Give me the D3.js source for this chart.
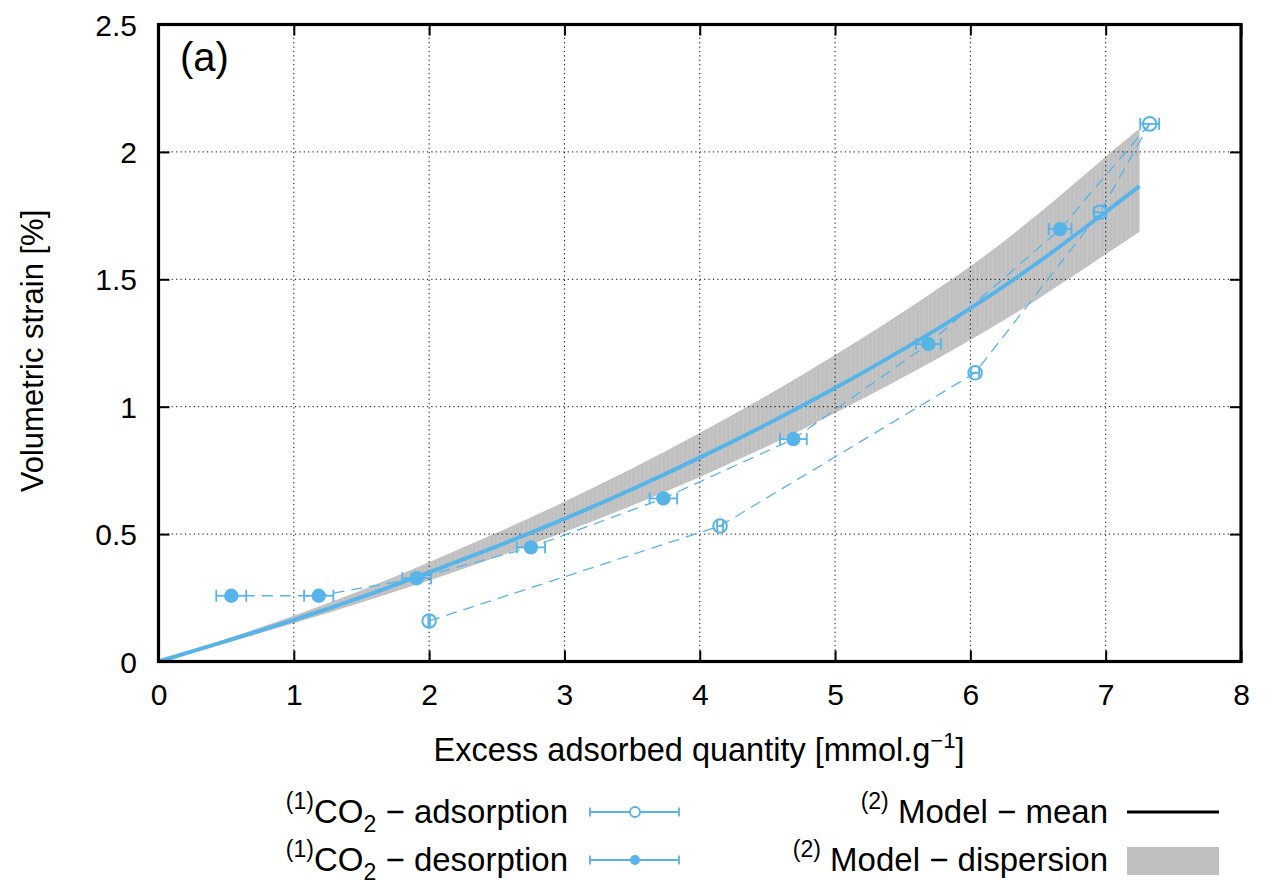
<!DOCTYPE html>
<html><head><meta charset="utf-8">
<script src="https://cdn.jsdelivr.net/npm/d3@7"></script>
<style>
body{margin:0;background:#fff}
svg{display:block}
text{font-family:"Liberation Sans",Arial,Helvetica,sans-serif;fill:#000}
</style>
</head><body>
<svg id="c" width="1266" height="885"></svg>
<script>
// ---- data ----
const xTicks = [0,1,2,3,4,5,6,7,8];
const xTickLabels = ["0","1","2","3","4","5","6","7","8"];
const yTicks = [0,0.5,1,1.5,2,2.5];
const yTickLabels = ["0","0.5","1","1.5","2","2.5"];

const adsX   = [2.0, 4.15, 6.035, 6.958, 7.325];
const adsY   = [0.159, 0.532, 1.133, 1.763, 2.11];
const adsErr = [0.006, 0.022, 0.03, 0.045, 0.07];

const desX   = [6.663, 5.69, 4.692, 3.731, 2.752, 1.908, 1.184, 0.538];
const desY   = [1.697, 1.246, 0.873, 0.640, 0.448, 0.327, 0.258, 0.258];
const desErr = [0.084, 0.092, 0.099, 0.102, 0.105, 0.106, 0.108, 0.111];

const modelX     = [0, 0.5, 1, 1.5, 2, 2.5, 3, 3.5, 4, 4.5, 5, 5.5, 6, 6.5, 7, 7.25];
const modelMean  = [0, 0.080, 0.163, 0.253, 0.350, 0.452, 0.560, 0.676, 0.800, 0.932, 1.073, 1.224, 1.386, 1.566, 1.764, 1.866];
const modelUpper = [0, 0.088, 0.180, 0.280, 0.390, 0.505, 0.627, 0.757, 0.897, 1.045, 1.203, 1.371, 1.551, 1.756, 1.981, 2.091];
const modelLower = [0, 0.074, 0.150, 0.232, 0.318, 0.410, 0.508, 0.612, 0.724, 0.845, 0.975, 1.115, 1.262, 1.423, 1.598, 1.687];

// ---- setup ----
const BLUE = "#56b4e9";
const BAND = "#c0c0c0";
const svg = d3.select("#c");
const x = d3.scaleLinear().domain([0,8]).range([158.5,1241]);
const y = d3.scaleLinear().domain([0,2.5]).range([661.5,24.5]);

const ads = adsX.map((v,i)=>({x:v,y:adsY[i],e:adsErr[i]}));
const des = desX.map((v,i)=>({x:v,y:desY[i],e:desErr[i]}));
const model = modelX.map((v,i)=>({x:v,m:modelMean[i],u:modelUpper[i],l:modelLower[i]}));

// band (with faint vertical striping like the original fill)
const areaGen = d3.area().x(d=>x(d.x)).y0(d=>y(d.l)).y1(d=>y(d.u)).curve(d3.curveNatural);
svg.append("clipPath").attr("id","bandclip").append("path").datum(model).attr("d",areaGen);
svg.append("path").datum(model).attr("fill",BAND).attr("d",areaGen);
const stripes = svg.append("g").attr("clip-path","url(#bandclip)").attr("stroke","#cfcfcf").attr("stroke-width",0.8).attr("opacity",0.7);
d3.range(x(0), x(7.25), 4.3).forEach(px=>{
  stripes.append("line").attr("x1",px).attr("x2",px).attr("y1",y(2.5)).attr("y2",y(0));
});

// grid
const grid = svg.append("g").attr("stroke","#000").attr("stroke-width",1).attr("stroke-dasharray","1.2,3.2");
grid.selectAll("line.v").data(xTicks.slice(1,-1)).join("line")
  .attr("x1",d=>x(d)).attr("x2",d=>x(d)).attr("y1",y(2.5)).attr("y2",y(0));
grid.selectAll("line.h").data(yTicks.slice(1,-1)).join("line")
  .attr("y1",d=>y(d)).attr("y2",d=>y(d)).attr("x1",x(0)).attr("x2",x(8));

// dashed data lines
const lineGen = d3.line().x(d=>x(d.x)).y(d=>y(d.y));
svg.append("path").datum(ads).attr("fill","none").attr("stroke",BLUE).attr("stroke-width",1.3)
  .attr("stroke-dasharray","11,7").attr("d",lineGen);
svg.append("path").datum([ads[ads.length-1]].concat(des)).attr("fill","none").attr("stroke",BLUE).attr("stroke-width",1.3)
  .attr("stroke-dasharray","11,7").attr("d",lineGen);

// model mean
svg.append("path").datum(model).attr("fill","none").attr("stroke",BLUE).attr("stroke-width",4)
  .attr("d", d3.line().x(d=>x(d.x)).y(d=>y(d.m)).curve(d3.curveNatural));

// error bars + markers
function errBars(data){
  const g = svg.append("g").attr("stroke",BLUE).attr("stroke-width",1.8);
  data.forEach(d=>{
    const x0=x(d.x-d.e), x1=x(d.x+d.e), yy=y(d.y);
    g.append("line").attr("x1",x0).attr("x2",x1).attr("y1",yy).attr("y2",yy);
    g.append("line").attr("x1",x0).attr("x2",x0).attr("y1",yy-6).attr("y2",yy+6);
    g.append("line").attr("x1",x1).attr("x2",x1).attr("y1",yy-6).attr("y2",yy+6);
  });
}
errBars(ads); errBars(des);
svg.append("g").selectAll("circle").data(ads).join("circle")
  .attr("cx",d=>x(d.x)).attr("cy",d=>y(d.y)).attr("r",6.8)
  .attr("fill","none").attr("stroke",BLUE).attr("stroke-width",2);
svg.append("g").selectAll("circle").data(des).join("circle")
  .attr("cx",d=>x(d.x)).attr("cy",d=>y(d.y)).attr("r",7.2)
  .attr("fill",BLUE);

// axes (ticks inside, mirrored)
const FS = 30;
const axB = svg.append("g").attr("transform",`translate(0,${y(0)})`)
  .call(d3.axisBottom(x).tickValues(xTicks).tickFormat((d,i)=>xTickLabels[i]).tickSizeInner(-11).tickSizeOuter(0).tickPadding(0));
axB.selectAll("text").attr("y",43.5).attr("dy",null).style("font-size",FS+"px");
const axL = svg.append("g").attr("transform",`translate(${x(0)},0)`)
  .call(d3.axisLeft(y).tickValues(yTicks).tickFormat((d,i)=>yTickLabels[i]).tickSizeInner(-11).tickSizeOuter(0).tickPadding(0));
axL.selectAll("text").attr("x",-21.5).attr("dy",null).attr("y",10.5).style("font-size",FS+"px");
const axT = svg.append("g").attr("transform",`translate(0,${y(2.5)})`)
  .call(d3.axisTop(x).tickValues(xTicks).tickFormat("").tickSizeInner(-11).tickSizeOuter(0));
const axR = svg.append("g").attr("transform",`translate(${x(8)},0)`)
  .call(d3.axisRight(y).tickValues(yTicks).tickFormat("").tickSizeInner(-11).tickSizeOuter(0));
[axB,axL,axT,axR].forEach(a=>{
  a.select(".domain").remove();
  a.selectAll(".tick line").attr("stroke","#000").attr("stroke-width",2);
  a.attr("font-family",null).attr("font-size",null);
});

// frame
svg.append("rect").attr("x",x(0)).attr("y",y(2.5)).attr("width",x(8)-x(0)).attr("height",y(0)-y(2.5))
  .attr("fill","none").attr("stroke","#000").attr("stroke-width",3.2);

// labels
svg.append("text").attr("x",180).attr("y",71).style("font-size","40px").text("(a)");
const xl = svg.append("text").attr("x",699).attr("y",761).attr("text-anchor","middle").style("font-size","32.5px");
xl.append("tspan").text("Excess adsorbed quantity [mmol.g");
xl.append("tspan").attr("dy",-13).style("font-size","22px").text("\u22121");
xl.append("tspan").attr("dy",13).text("]");
svg.append("text").attr("transform","translate(43,351) rotate(-90)").attr("text-anchor","middle")
  .style("font-size","31px").text("Volumetric strain [%]");

// legend
const LFS = 33, SFS = 23;
function coLabel(xEnd, yb, word){
  const t = svg.append("text").attr("x",xEnd).attr("y",yb).attr("text-anchor","end").style("font-size",LFS+"px");
  t.append("tspan").attr("dy",-14).style("font-size",SFS+"px").text("(1)");
  t.append("tspan").attr("dy",14).text("CO");
  t.append("tspan").attr("dy",9).style("font-size",SFS+"px").text("2");
  t.append("tspan").attr("dy",-9).text(" \u2212 " + word);
}
function modelLabel(xEnd, yb, word){
  const t = svg.append("text").attr("x",xEnd).attr("y",yb).attr("text-anchor","end").style("font-size",LFS+"px");
  t.append("tspan").attr("dy",-14).style("font-size",SFS+"px").text("(2)");
  t.append("tspan").attr("dy",14).text(" Model \u2212 " + word);
}
coLabel(568, 823, "adsorption");
coLabel(568, 871, "desorption");
modelLabel(1108, 823, "mean");
modelLabel(1108, 871, "dispersion");

function legErr(yy, filled){
  const g = svg.append("g").attr("stroke",BLUE).attr("stroke-width",1.8);
  g.append("line").attr("x1",590).attr("x2",679).attr("y1",yy).attr("y2",yy);
  g.append("line").attr("x1",590).attr("x2",590).attr("y1",yy-4.5).attr("y2",yy+4.5);
  g.append("line").attr("x1",679).attr("x2",679).attr("y1",yy-4.5).attr("y2",yy+4.5);
  svg.append("circle").attr("cx",635).attr("cy",yy).attr("r",5)
    .attr("fill",filled?BLUE:"#fff").attr("stroke",BLUE).attr("stroke-width",filled?0:1.8);
}
legErr(812,false);
legErr(860,true);
svg.append("line").attr("x1",1127).attr("x2",1219).attr("y1",812).attr("y2",812).attr("stroke","#000").attr("stroke-width",3);
svg.append("rect").attr("x",1127).attr("y",847).attr("width",92).attr("height",28).attr("fill",BAND);
</script>
</body></html>
